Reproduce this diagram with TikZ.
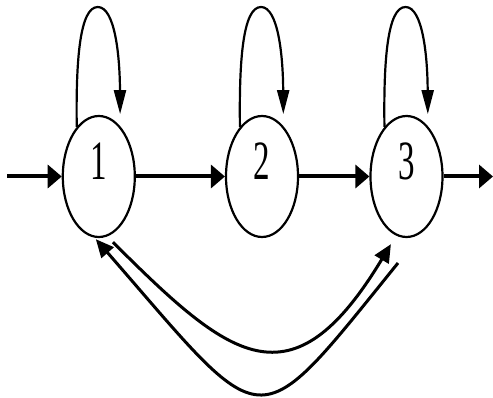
\documentclass[tikz,border=0pt]{standalone}
\usepackage{graphicx}
\usepackage{fontspec}
\setmainfont{Liberation Serif}
\usetikzlibrary{arrows.meta,shapes.geometric,calc}
\newcommand\statedigit[1]{\scalebox{1}[1.68]{\fontsize{33}{33}\selectfont #1}}
\begin{document}
\begin{tikzpicture}[x=1pt,y=-1pt,
  state/.style={draw, ellipse, minimum width=72pt, minimum height=121pt, inner sep=0pt, line width=2.2pt},
  lbl/.style={inner sep=0pt},
  hedge/.style={line width=4pt, -{Triangle[length=14pt,width=23pt]}},
  loopedge/.style={line width=2.2pt, -{Triangle[length=24pt,width=12pt]}, shorten >=12pt},
  cedge/.style={line width=3pt, -{Triangle[length=18pt,width=16pt]}}]
\useasboundingbox (0,0) rectangle (493,398);
\node[state] (n1) at (98.8,176.5) {};
\node[state] (n2) at (262,176.5) {};
\node[state] (n3) at (406.5,176.5) {};
\node[lbl] (l1) at (98.8,161.5) {\statedigit{1}};
\node[lbl] (l2) at (262,161.5) {\statedigit{2}};
\node[lbl] (l3) at (406.5,161.5) {\statedigit{3}};
\coordinate (in) at (7,176.5);
\coordinate (out) at (493,176.5);
\coordinate (c3) at (398,263);
\draw[hedge] (in) -- (n1);
\draw[hedge] (n1) -- (n2);
\draw[hedge] (n2) -- (n3);
\draw[hedge] (n3) -- (out);
\foreach \n in {n1,n2,n3}
  \draw[loopedge] (\n.114) .. controls ($(\n)+(-23,-116.5)$) and ($(\n)+(-19,-169.5)$) .. ($(\n)+(-1,-169.5)$)
    .. controls ($(\n)+(16,-169.5)$) and ($(\n)+(21,-121.5)$) .. (\n.67);
\draw[cedge, shorten <=8pt, shorten >=10pt] (n1.-82) .. controls (229,358) and (291,410) .. (n3.-100);
\draw[cedge, shorten >=2pt] (c3) .. controls (252,443.5) and (269,438) .. (n1.-94);
\end{tikzpicture}
\end{document}
